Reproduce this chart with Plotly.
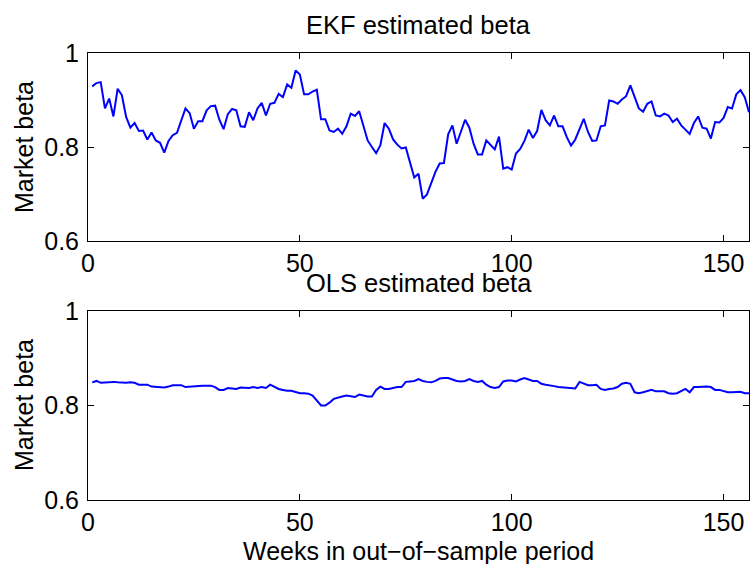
import plotly.graph_objects as go

weeks = list(range(1, 157))

ekf_beta = [
    0.929, 0.936, 0.938, 0.882, 0.903, 0.865, 0.924, 0.910, 0.864, 0.841,
    0.851, 0.834, 0.835, 0.816, 0.831, 0.814, 0.809, 0.788, 0.813, 0.825,
    0.830, 0.857, 0.882, 0.872, 0.839, 0.855, 0.855, 0.878, 0.887, 0.888,
    0.858, 0.838, 0.870, 0.881, 0.878, 0.844, 0.843, 0.874, 0.857, 0.882,
    0.894, 0.867, 0.892, 0.894, 0.913, 0.906, 0.933, 0.926, 0.963, 0.954,
    0.912, 0.912, 0.918, 0.922, 0.859, 0.859, 0.835, 0.832, 0.839, 0.828,
    0.844, 0.871, 0.866, 0.876, 0.846, 0.814, 0.800, 0.787, 0.804, 0.851,
    0.839, 0.816, 0.805, 0.797, 0.799, 0.765, 0.735, 0.743, 0.690, 0.699,
    0.723, 0.747, 0.765, 0.766, 0.827, 0.846, 0.807, 0.834, 0.858, 0.841,
    0.807, 0.784, 0.784, 0.814, 0.805, 0.795, 0.822, 0.754, 0.757, 0.752,
    0.786, 0.796, 0.813, 0.837, 0.819, 0.834, 0.879, 0.857, 0.846, 0.867,
    0.844, 0.844, 0.821, 0.803, 0.816, 0.839, 0.860, 0.832, 0.813, 0.814,
    0.844, 0.846, 0.899, 0.897, 0.892, 0.901, 0.908, 0.931, 0.905, 0.882,
    0.875, 0.892, 0.897, 0.867, 0.865, 0.871, 0.867, 0.853, 0.860, 0.846,
    0.837, 0.828, 0.851, 0.865, 0.841, 0.839, 0.818, 0.853, 0.852, 0.862,
    0.885, 0.882, 0.912, 0.921, 0.906, 0.874,
]

ols_beta = [
    0.849, 0.852, 0.848, 0.849, 0.849, 0.850, 0.849, 0.848, 0.848, 0.849,
    0.848, 0.844, 0.844, 0.844, 0.840, 0.839, 0.838, 0.838, 0.840, 0.843,
    0.843, 0.843, 0.839, 0.840, 0.840, 0.841, 0.842, 0.842, 0.842, 0.839,
    0.833, 0.833, 0.837, 0.836, 0.835, 0.838, 0.837, 0.837, 0.839, 0.837,
    0.839, 0.837, 0.844, 0.839, 0.835, 0.833, 0.831, 0.831, 0.828, 0.826,
    0.826, 0.825, 0.821, 0.810, 0.800, 0.800, 0.806, 0.814, 0.817, 0.819,
    0.821, 0.819, 0.818, 0.823, 0.821, 0.819, 0.819, 0.833, 0.840, 0.835,
    0.835, 0.837, 0.839, 0.839, 0.850, 0.851, 0.852, 0.856, 0.852, 0.850,
    0.849, 0.852, 0.857, 0.858, 0.858, 0.855, 0.852, 0.851, 0.852, 0.856,
    0.852, 0.850, 0.852, 0.844, 0.839, 0.837, 0.839, 0.851, 0.853, 0.853,
    0.851, 0.855, 0.858, 0.855, 0.852, 0.852, 0.846, 0.844, 0.843, 0.841,
    0.839, 0.838, 0.838, 0.837, 0.836, 0.850, 0.846, 0.843, 0.843, 0.844,
    0.835, 0.833, 0.835, 0.836, 0.839, 0.846, 0.848, 0.846, 0.828, 0.826,
    0.828, 0.830, 0.833, 0.830, 0.830, 0.830, 0.826, 0.825, 0.826, 0.830,
    0.835, 0.828, 0.839, 0.839, 0.840, 0.840, 0.839, 0.833, 0.833, 0.831,
    0.828, 0.828, 0.829, 0.829, 0.826, 0.826,
]

x_ticks = [0, 50, 100, 150]
y_ticks = [0.6, 0.8, 1.0]
y_tick_text = ["0.6", "0.8", "1"]

titles = ["EKF estimated beta", "OLS estimated beta"]
y_label = "Market beta"
x_label = "Weeks in out\u2212of\u2212sample period"

FONT = "Liberation Sans, Arial, sans-serif"
LINE_COLOR = "#0000ff"

fig = go.Figure()
fig.add_trace(go.Scatter(x=weeks, y=ekf_beta, mode="lines",
                         line=dict(color=LINE_COLOR, width=2),
                         xaxis="x", yaxis="y", showlegend=False))
fig.add_trace(go.Scatter(x=weeks, y=ols_beta, mode="lines",
                         line=dict(color=LINE_COLOR, width=2),
                         xaxis="x2", yaxis="y2", showlegend=False))

W, H = 750, 564
ml, mr, mt, mb = 88, 1, 53, 64
ph = H - mt - mb  # 447

def pfy(py):
    return (H - mb - py) / ph

def pfx(px):
    return (px - ml) / (W - ml - mr)

axis_common = dict(
    showline=True, linecolor="black", linewidth=1, mirror="ticks",
    ticks="inside", ticklen=6, tickcolor="black", tickwidth=1,
    showgrid=False, zeroline=False,
    tickfont=dict(family=FONT, size=25, color="black"),
)

fig.update_layout(
    width=W, height=H,
    margin=dict(l=ml, r=mr, t=mt, b=mb),
    paper_bgcolor="white", plot_bgcolor="white",
    font=dict(family=FONT, color="black"),
    xaxis=dict(domain=[0, 1], anchor="y", range=[0, 156],
               tickvals=x_ticks, ticklabelstandoff=0, **axis_common),
    yaxis=dict(domain=[pfy(241), 1], anchor="x", range=[0.6, 1],
               tickvals=y_ticks, ticktext=y_tick_text,
               ticklabelstandoff=3, **axis_common),
    xaxis2=dict(domain=[0, 1], anchor="y2", range=[0, 156],
                tickvals=x_ticks, ticklabelstandoff=0, **axis_common),
    yaxis2=dict(domain=[0, pfy(311)], anchor="x2", range=[0.6, 1],
                tickvals=y_ticks, ticktext=y_tick_text,
                ticklabelstandoff=3, **axis_common),
)

ann_font = dict(family=FONT, size=25, color="black")
title_font = dict(family=FONT, size=25.5, color="black")
annotations = [
    dict(text=titles[0], xref="paper", yref="paper", x=0.5, y=pfy(25),
         xanchor="center", yanchor="middle", showarrow=False, font=title_font),
    dict(text=titles[1], xref="paper", yref="paper", x=0.5, y=pfy(283),
         xanchor="center", yanchor="middle", showarrow=False, font=title_font),
    dict(text=x_label, xref="paper", yref="paper", x=0.5, y=pfy(551),
         xanchor="center", yanchor="middle", showarrow=False, font=ann_font),
    dict(text=y_label, xref="paper", yref="paper", x=pfx(24), y=pfy(147),
         xanchor="center", yanchor="middle", showarrow=False, textangle=-90,
         font=ann_font),
    dict(text=y_label, xref="paper", yref="paper", x=pfx(24), y=pfy(405),
         xanchor="center", yanchor="middle", showarrow=False, textangle=-90,
         font=ann_font),
]
fig.update_layout(annotations=annotations)

fig.write_html("out.html")
